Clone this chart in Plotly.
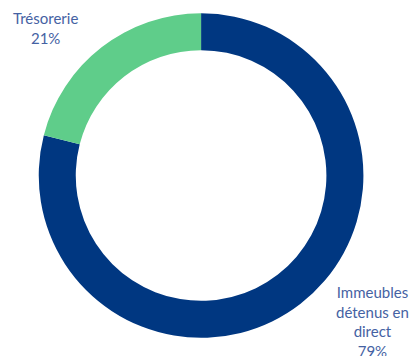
import plotly.graph_objects as go

labels = ["Immeubles détenus en direct", "Trésorerie"]
values = [79, 21]
label_texts = ["Immeubles<br>détenus en<br>direct<br>79%", "Trésorerie<br>21%"]
colors = ["#003781", "#5fcd8a"]

fig = go.Figure(go.Pie(
    labels=labels, values=values, hole=0.772, sort=False,
    direction="clockwise", rotation=0,
    marker=dict(colors=colors, line=dict(width=0)),
    textinfo="none", hoverinfo="label+percent",
    domain=dict(x=[0.0925, 0.886], y=[0.051, 0.963]),
    showlegend=False,
))

font = dict(family="Lato", size=15, color="#4562a3")
fig.add_annotation(x=372/411, y=1-281/356, xref="paper", yref="paper", text=label_texts[0],
                   showarrow=False, xanchor="center", yanchor="top", font=font, align="center")
fig.add_annotation(x=45/411, y=1-7/356, xref="paper", yref="paper", text=label_texts[1],
                   showarrow=False, xanchor="center", yanchor="top", font=font, align="center")

fig.update_layout(width=411, height=356, margin=dict(l=0, r=0, t=0, b=0),
                  paper_bgcolor="white", plot_bgcolor="white")
fig.write_html("out.html", config={"displayModeBar": False},
               post_script="document.body.style.margin='0';")
